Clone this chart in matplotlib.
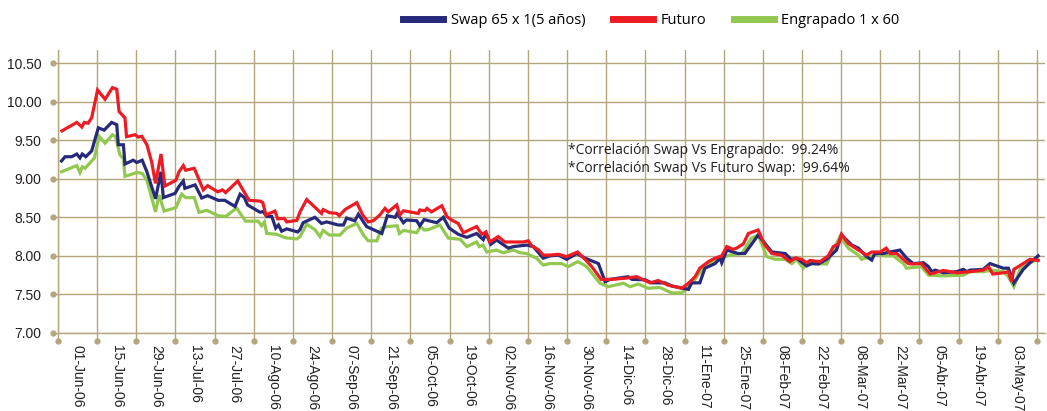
import matplotlib
matplotlib.use("Agg")
import matplotlib.pyplot as plt
from matplotlib.lines import Line2D
import matplotlib.transforms as mtransforms

# trading-day index (10 days between labels) and values
t_futuro = [1, 4.8, 6.1, 6.7, 7.7, 8.6, 10.1, 12.0, 13.9, 15.0, 15.6, 17.1, 17.5, 19.7, 20.5, 21.4,
            22.7, 23.9, 24.9, 26.3, 27.3, 30.1, 30.9, 32.0, 32.6, 34.3, 34.8, 37.1, 38.2, 40.8,
            42.0, 42.8, 45.9, 48.8, 51.6, 52.3, 53.1, 55.4, 56.1, 57.8, 58.4, 61.0, 61.8, 63.5,
            67.3, 67.7, 69.3, 71.2, 71.8, 73.3, 76.3, 77.8, 79.2, 80.5, 82.2, 83.5, 84.3, 86.5,
            87.3, 88.2, 92.0, 92.4, 93.7, 94.2, 95.4, 98.0, 99.3, 100.5, 102.2, 103.5, 106.9,
            108.2, 109.3, 110.3, 112.4, 114.1, 118.8, 120.1, 121.0, 122.7, 123.9, 125.6, 127.8,
            129.9, 132.7, 134.6, 136.3, 138.7, 141.4, 144.8, 147.8, 151.2, 153.3, 155.8, 159.3,
            161.0, 162.7, 163.9, 166.1, 167.8, 169.5, 170.8, 172.4, 173.3, 175.0, 176.3, 178.8,
            180.5, 182.3, 184.8, 186.9, 188.2, 189.9, 191.2, 192.0, 194.6, 196.7, 198.0, 199.3,
            200.1, 201.8, 204.4, 206.5, 207.8, 210.0, 211.5, 212.5, 214.2, 217.1, 218.0, 220.5,
            222.7, 226.1, 229.5, 232.9, 236.3, 237.6, 238.7, 241.4, 242.7, 243.5, 244.1, 246.5,
            248.2, 250.3]
futuro = [9.62, 9.73, 9.67, 9.73, 9.72, 9.79, 10.15, 10.03, 10.18, 10.16, 9.87, 9.79, 9.545, 9.57,
          9.54, 9.55, 9.44, 9.22, 8.94, 9.32, 8.905, 8.98, 9.09, 9.17, 9.11, 9.13, 9.135, 8.855,
          8.91, 8.83, 8.855, 8.82, 8.97, 8.72, 8.71, 8.69, 8.53, 8.58, 8.48, 8.485, 8.44, 8.46,
          8.57, 8.73, 8.55, 8.60, 8.56, 8.55, 8.52, 8.60, 8.69, 8.53, 8.44, 8.455, 8.53, 8.615,
          8.57, 8.66, 8.53, 8.585, 8.55, 8.595, 8.585, 8.615, 8.57, 8.65, 8.51, 8.465, 8.42, 8.30,
          8.38, 8.28, 8.31, 8.18, 8.25, 8.18, 8.18, 8.195, 8.13, 8.08, 8.01, 8.01, 8.02, 7.99,
          8.05, 7.955, 7.86, 7.695, 7.695, 7.71, 7.73, 7.65, 7.68, 7.62, 7.58, 7.645, 7.73, 7.84,
          7.925, 7.97, 8.00, 8.12, 8.085, 8.10, 8.155, 8.29, 8.335, 8.14, 8.03, 8.01, 7.925, 7.97,
          7.955, 7.91, 7.94, 7.925, 8.00, 8.12, 8.155, 8.28, 8.16, 8.075, 8.01, 8.05, 8.05, 8.10,
          8.03, 8.03, 7.90, 7.895, 7.90, 7.765, 7.81, 7.78, 7.795, 7.815, 7.86, 7.765, 7.78,
          7.795, 7.665, 7.825, 7.90, 7.955, 7.94]

t_swap = [0.9, 1.8, 3.5, 4.8, 5.6, 6.2, 7.1, 8.6, 10.3, 11.8, 13.7, 15.0, 15.4, 16.7, 17.1, 19.2,
          20.1, 21.5, 22.7, 24.9, 26.3, 26.9, 29.9, 30.9, 32.0, 32.4, 35.0, 36.7, 38.2, 40.9, 42.6,
          45.2, 46.5, 47.6, 48.4, 51.6, 52.4, 53.3, 54.6, 55.6, 56.3, 57.1, 58.4, 61.2, 61.8, 62.6,
          65.6, 67.3, 68.6, 71.6, 72.9, 73.7, 75.8, 76.7, 78.8, 82.7, 84.1, 86.1, 86.6, 88.2, 89.0,
          91.6, 92.4, 93.5, 96.7, 98.4, 99.9, 102.2, 104.4, 106.9, 108.6, 109.3, 110.5, 112.0,
          115.0, 116.3, 119.7, 121.4, 123.9, 125.6, 127.8, 129.9, 132.5, 134.6, 138.0, 139.7,
          141.0, 145.6, 146.6, 149.9, 151.6, 155.0, 156.7, 161.0, 161.8, 163.9, 165.2, 167.8,
          169.1, 169.5, 170.8, 173.7, 175.4, 178.8, 182.3, 185.7, 187.2, 188.6, 191.2, 192.5,
          194.2, 196.3, 198.8, 200.1, 202.7, 204.4, 206.5, 207.8, 208.6, 210.7, 212.5, 215.0,
          216.7, 218.4, 221.0, 222.3, 223.1, 224.0, 226.1, 229.5, 231.2, 232.1, 232.9, 236.3,
          238.0, 241.4, 242.7, 244.1, 246.5, 248.2, 250.3]
swap = [9.23, 9.285, 9.285, 9.32, 9.27, 9.32, 9.285, 9.36, 9.66, 9.63, 9.73, 9.70, 9.44, 9.44, 9.19,
        9.24, 9.21, 9.24, 9.09, 8.74, 9.09, 8.755, 8.81, 8.90, 8.97, 8.875, 8.92, 8.75, 8.78, 8.72,
        8.72, 8.64, 8.80, 8.755, 8.66, 8.565, 8.575, 8.51, 8.51, 8.36, 8.40, 8.32, 8.35, 8.31, 8.34,
        8.43, 8.50, 8.42, 8.44, 8.40, 8.40, 8.49, 8.455, 8.54, 8.38, 8.29, 8.52, 8.50, 8.55, 8.43,
        8.465, 8.455, 8.39, 8.47, 8.43, 8.50, 8.36, 8.28, 8.24, 8.29, 8.21, 8.29, 8.15, 8.205, 8.10,
        8.12, 8.14, 8.12, 7.97, 8.00, 8.01, 7.955, 8.03, 7.97, 7.90, 7.665, 7.695, 7.73, 7.695,
        7.69, 7.65, 7.65, 7.61, 7.565, 7.65, 7.65, 7.84, 7.90, 7.97, 7.91, 8.075, 8.03, 8.03, 8.27,
        8.05, 8.03, 7.955, 7.97, 7.87, 7.90, 7.895, 7.955, 8.075, 8.27, 8.14, 8.10, 7.99, 7.945,
        8.03, 8.03, 8.05, 8.075, 7.97, 7.90, 7.91, 7.86, 7.795, 7.815, 7.78, 7.795, 7.825, 7.795,
        7.815, 7.825, 7.90, 7.84, 7.84, 7.645, 7.825, 7.91, 8.00]

t_engrapado = [0.9, 4.8, 5.6, 6.2, 6.9, 9.3, 10.5, 12.0, 13.9, 14.7, 15.8, 16.7, 17.1, 20.1, 21.5,
               22.7, 24.9, 25.8, 27.1, 30.1, 31.6, 32.6, 34.8, 36.0, 38.0, 40.9, 42.8, 45.6, 47.9,
               51.1, 52.0, 52.7, 53.3, 55.8, 58.0, 61.0, 61.8, 63.5, 65.6, 66.9, 67.7, 69.3, 72.0,
               73.7, 76.3, 78.0, 79.2, 81.4, 82.7, 84.1, 86.6, 87.2, 88.2, 91.6, 92.6, 93.5, 94.6,
               97.5, 99.7, 102.7, 104.4, 106.9, 107.6, 108.5, 109.5, 112.0, 113.7, 116.3, 118.0,
               119.7, 122.2, 123.9, 125.6, 128.6, 130.3, 132.7, 133.7, 135.0, 138.4, 140.5, 144.4,
               146.1, 148.2, 150.7, 153.7, 156.7, 159.3, 161.8, 164.4, 167.8, 169.5, 171.6, 174.6,
               177.1, 178.8, 181.0, 183.1, 185.7, 187.4, 188.6, 190.3, 191.2, 196.3, 198.0, 199.7,
               201.8, 204.4, 205.2, 207.4, 210.0, 211.2, 213.3, 215.9, 216.7, 220.5, 222.3, 226.1,
               231.2, 232.9, 236.3, 238.4, 241.4, 242.7, 244.1, 245.7, 248.2, 250.3]
engrapado = [9.09, 9.17, 9.08, 9.155, 9.135, 9.27, 9.55, 9.46, 9.57, 9.545, 9.31, 9.26, 9.03, 9.08,
             9.07, 8.98, 8.57, 8.79, 8.58, 8.625, 8.80, 8.755, 8.755, 8.565, 8.59, 8.52, 8.51, 8.62,
             8.45, 8.45, 8.39, 8.44, 8.29, 8.28, 8.235, 8.22, 8.25, 8.41, 8.34, 8.25, 8.33, 8.27,
             8.27, 8.36, 8.42, 8.27, 8.195, 8.195, 8.36, 8.38, 8.39, 8.29, 8.33, 8.30, 8.38, 8.335,
             8.34, 8.40, 8.23, 8.215, 8.12, 8.18, 8.12, 8.14, 8.05, 8.075, 8.04, 8.075, 8.04, 8.03,
             7.97, 7.88, 7.90, 7.90, 7.86, 7.925, 7.90, 7.86, 7.645, 7.60, 7.645, 7.60, 7.635, 7.58,
             7.59, 7.52, 7.52, 7.635, 7.82, 7.945, 7.98, 8.01, 8.03, 8.23, 8.27, 7.99, 7.955, 7.955,
             7.90, 7.955, 7.84, 7.90, 7.895, 8.075, 8.25, 8.10, 8.01, 7.955, 7.99, 8.03, 8.00, 8.00,
             7.90, 7.84, 7.86, 7.75, 7.74, 7.75, 7.795, 7.795, 7.815, 7.795, 7.73, 7.60, 7.825,
             7.91, 7.955]

date_labels = ["01-Jun-06", "15-Jun-06", "29-Jun-06", "13-Jul-06", "27-Jul-06", "10-Ago-06",
               "24-Ago-06", "07-Sep-06", "21-Sep-06", "05-Oct-06", "19-Oct-06", "02-Nov-06",
               "16-Nov-06", "30-Nov-06", "14-Dic-06", "28-Dic-06", "11-Ene-07", "25-Ene-07",
               "08-Feb-07", "22-Feb-07", "08-Mar-07", "22-Mar-07", "05-Abr-07", "19-Abr-07",
               "03-May-07"]
y_ticks = [7.0, 7.5, 8.0, 8.5, 9.0, 9.5, 10.0, 10.5]

c_swap = "#262a78"
c_fut = "#ed1c24"
c_eng = "#92c84f"
c_grid = "#b3a67c"

fig = plt.figure(figsize=(10.47, 4.11), dpi=100)
ax = fig.add_axes([0.0554, 0.1898, 0.9425, 0.6888])

ax.plot(t_engrapado, engrapado, color=c_eng, lw=2.3, solid_joinstyle="miter")
ax.plot(t_swap, swap, color=c_swap, lw=2.3, solid_joinstyle="miter")
ax.plot(t_futuro, futuro, color=c_fut, lw=2.3, solid_joinstyle="miter")

ax.set_xlim(0, 252)
ax.set_ylim(7.0, 10.67)

grid_t = list(range(0, 251, 10))
ax.set_xticks(grid_t)
ax.set_xticklabels([])
ax.set_xticks([g + 5 for g in grid_t[:-1]], minor=True)
ax.set_xticklabels(date_labels, minor=True, rotation=270, fontsize=10,
                   family=["Liberation Sans", "DejaVu Sans"], color="#231f20")
ax.tick_params(axis="x", which="minor", length=0, pad=9)
ax.tick_params(axis="x", which="major", length=6, width=1.0, color=c_grid, direction="out")
ax.set_yticks(y_ticks)
ax.set_yticklabels(["%.2f" % v for v in y_ticks], fontsize=10,
                   family=["Liberation Sans", "DejaVu Sans"], color="#231f20")
ax.tick_params(axis="y", length=4, width=1.0, color=c_grid, pad=8)

ax.grid(True, which="major", color=c_grid, lw=1.0)
ax.set_axisbelow(True)
for s in ["top", "right"]:
    ax.spines[s].set_visible(False)
for s in ["left", "bottom"]:
    ax.spines[s].set_color(c_grid)
    ax.spines[s].set_linewidth(1.0)

# little dots at the ends of the ticks
offs = mtransforms.ScaledTranslation(0, -8 / 100, fig.dpi_scale_trans)
ax.plot(grid_t, [0] * len(grid_t), "o", ms=3.5, color=c_grid, clip_on=False,
        transform=ax.get_xaxis_transform() + offs)
offs_y = mtransforms.ScaledTranslation(-5 / 100, 0, fig.dpi_scale_trans)
ax.plot([0] * len(y_ticks), y_ticks, "o", ms=3.5, color=c_grid, clip_on=False,
        transform=ax.get_yaxis_transform() + offs_y)

fig.text(0.5425, 0.635, "*Correlación Swap Vs Engrapado:  99.24%", fontsize=10,
         family=["Open Sans", "DejaVu Sans"], va="center", color="#231f20")
fig.text(0.5425, 0.589, "*Correlación Swap Vs Futuro Swap:  99.64%", fontsize=10,
         family=["Open Sans", "DejaVu Sans"], va="center", color="#231f20")

handles = [Line2D([], [], color=c_swap, lw=5), Line2D([], [], color=c_fut, lw=5),
           Line2D([], [], color=c_eng, lw=5)]
fig.legend(handles, ["Swap 65 x 1(5 años)", "Futuro", "Engrapado 1 x 60"],
           loc="center", bbox_to_anchor=(0.622, 0.951), ncol=3, frameon=False,
           handlelength=2.75, handletextpad=0.5, columnspacing=1.9,
           prop={"family": ["Open Sans", "DejaVu Sans"], "size": 10.5})

fig.savefig("out.png", dpi=100)
